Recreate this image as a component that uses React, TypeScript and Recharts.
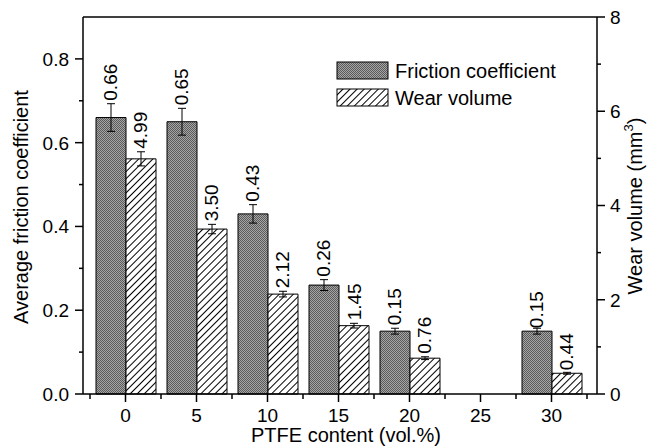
import React from "react"
import { BarChart, Bar, XAxis, YAxis, ErrorBar, LabelList, ReferenceLine } from "recharts"

const categories = ["0", "5", "10", "15", "20", "25", "30"]
const friction = [0.66, 0.65, 0.43, 0.26, 0.15, null, 0.15]
const frictionErr = [0.033, 0.032, 0.022, 0.013, 0.007, null, 0.007]
const wear = [4.99, 3.5, 2.12, 1.45, 0.76, null, 0.44]
const wearErr = [0.15, 0.1, 0.06, 0.05, 0.03, null, 0.02]
const leftTicks = [0, 0.1, 0.2, 0.3, 0.4, 0.5, 0.6, 0.7, 0.8]
const rightTicks = [0, 1, 2, 3, 4, 5, 6, 7, 8]

const data = categories.map((c, i) => ({
    x: c,
    friction: friction[i],
    frictionErr: frictionErr[i],
    wear: wear[i],
    wearErr: wearErr[i],
}))

const W = 655
const H = 448
const LEFT_W = 83
const RIGHT_W = 58
const X_H = 54
const TOP = 17
const PAD_L = 7
const PAD_R = 10
const PLOT_W = W - LEFT_W - RIGHT_W
const BAND = (PLOT_W - PAD_L - PAD_R) / categories.length
const FONT = 19

const LeftTick = (p: any) => {
    const { x, y, payload } = p
    const v = payload.value
    const major = Math.round(v * 10) % 2 === 0
    return (
        <g>
            <line x1={x} x2={x - (major ? 8 : 4)} y1={y} y2={y} stroke="#000" strokeWidth={1.5} />
            {major && (
                <text x={x - 14} y={y} dy="0.36em" textAnchor="end" fontSize={FONT} fill="#000">
                    {v.toFixed(1)}
                </text>
            )}
        </g>
    )
}

const RightTick = (p: any) => {
    const { x, y, payload } = p
    const v = payload.value
    const major = v % 2 === 0
    return (
        <g>
            <line x1={x} x2={x + (major ? 8 : 4)} y1={y} y2={y} stroke="#000" strokeWidth={1.5} />
            {major && (
                <text x={x + 13} y={y} dy="0.36em" textAnchor="start" fontSize={FONT} fill="#000">
                    {v}
                </text>
            )}
        </g>
    )
}

const BottomTick = (p: any) => {
    const { x, y, payload, index } = p
    const last = index === categories.length - 1
    return (
        <g>
            <line x1={x} x2={x} y1={y} y2={y + 8} stroke="#000" strokeWidth={1.5} />
            <line x1={x - BAND / 2} x2={x - BAND / 2} y1={y} y2={y + 5} stroke="#000" strokeWidth={1.5} />
            {last && <line x1={x + BAND / 2} x2={x + BAND / 2} y1={y} y2={y + 5} stroke="#000" strokeWidth={1.5} />}
            <text x={x} y={y + 28} textAnchor="middle" fontSize={FONT} fill="#000">
                {payload.value}
            </text>
        </g>
    )
}

const makeLabel = (errs: (number | null)[]) => (p: any) => {
    const vb = p.viewBox ?? p
    const x = vb.x ?? p.x
    const y = vb.y ?? p.y
    const width = vb.width ?? p.width
    const height = vb.height ?? p.height
    const value = p.value
    if (value == null || value === "") return null
    const v = Number(value)
    const e = errs[p.index] ?? 0
    const errPx = v > 0 ? (e / v) * Math.abs(height) : 0
    const tx = x + width / 2 + 6.5
    const ty = y - errPx - 3
    return (
        <text x={tx} y={ty} transform={`rotate(-90 ${tx} ${ty})`} fontSize={FONT} textAnchor="start" fill="#000">
            {v.toFixed(2)}
        </text>
    )
}

export default function App() {
    return (
        <div style={{ position: "absolute", left: 0, top: 0, width: W, height: H, background: "#fff", fontFamily: "'Liberation Sans', Arial, sans-serif" }}>
            <svg width={0} height={0} style={{ position: "absolute" }}>
                <defs>
                    <pattern id="fricPat" patternUnits="userSpaceOnUse" width={2} height={2}>
                        <rect x={0} y={0} width={2} height={2} fill="#a6a6a6" />
                        <rect x={0} y={0} width={1} height={1} fill="#5a5a5a" />
                        <rect x={1} y={1} width={1} height={1} fill="#5a5a5a" />
                    </pattern>
                    <pattern id="wearPat" patternUnits="userSpaceOnUse" width={5} height={5} patternTransform="rotate(45)">
                        <rect x={0} y={0} width={5} height={5} fill="#fff" />
                        <line x1={0.5} y1={0} x2={0.5} y2={5} stroke="#000" strokeWidth={1} />
                    </pattern>
                </defs>
            </svg>
            <BarChart
                width={W}
                height={H}
                data={data}
                margin={{ top: TOP, right: 0, bottom: 0, left: 0 }}
                barCategoryGap={6}
                barGap={0}
            >
                <XAxis
                    dataKey="x"
                    height={X_H}
                    padding={{ left: PAD_L, right: PAD_R }}
                    interval={0}
                    tickSize={0}
                    tickMargin={0}
                    tickLine={false}
                    axisLine={{ stroke: "#000", strokeWidth: 1.5 }}
                    tick={BottomTick}
                    label={{
                        value: "PTFE content (vol.%)",
                        content: () => (
                            <text x={LEFT_W + PLOT_W / 2 + 6} y={442} textAnchor="middle" fontSize={20} fill="#000">
                                PTFE content (vol.%)
                            </text>
                        ),
                    }}
                />
                <YAxis
                    yAxisId="l"
                    orientation="left"
                    width={LEFT_W}
                    domain={[0, 0.9]}
                    ticks={leftTicks}
                    interval={0}
                    tickSize={0}
                    tickMargin={0}
                    tickLine={false}
                    axisLine={{ stroke: "#000", strokeWidth: 1.5 }}
                    tick={LeftTick}
                    label={{
                        value: "Average friction coefficient",
                        content: () => (
                            <text x={28} y={207} transform="rotate(-90 28 207)" textAnchor="middle" fontSize={20} fill="#000">
                                Average friction coefficient
                            </text>
                        ),
                    }}
                />
                <YAxis
                    yAxisId="r"
                    orientation="right"
                    width={RIGHT_W}
                    domain={[0, 8]}
                    ticks={rightTicks}
                    interval={0}
                    tickSize={0}
                    tickMargin={0}
                    tickLine={false}
                    axisLine={{ stroke: "#000", strokeWidth: 1.5 }}
                    tick={RightTick}
                    label={{
                        value: "Wear volume (mm3)",
                        content: () => (
                            <text x={642} y={206} transform="rotate(-90 642 206)" textAnchor="middle" fontSize={20} fill="#000">
                                Wear volume (mm<tspan fontSize={13} dy={-9}>3</tspan><tspan dy={9}>)</tspan>
                            </text>
                        ),
                    }}
                />
                <ReferenceLine yAxisId="l" y={0.9} stroke="#000" strokeWidth={1.5} />
                <Bar yAxisId="l" dataKey="friction" fill="url(#fricPat)" stroke="#000" strokeWidth={1} isAnimationActive={false}>
                    <ErrorBar dataKey="frictionErr" width={4} stroke="#000" strokeWidth={1} direction="y" />
                    <LabelList dataKey="friction" content={makeLabel(frictionErr)} />
                </Bar>
                <Bar yAxisId="r" dataKey="wear" fill="url(#wearPat)" stroke="#000" strokeWidth={1} isAnimationActive={false}>
                    <ErrorBar dataKey="wearErr" width={4} stroke="#000" strokeWidth={1} direction="y" />
                    <LabelList dataKey="wear" content={makeLabel(wearErr)} />
                </Bar>
            </BarChart>
            <svg width={W} height={H} style={{ position: "absolute", left: 0, top: 0, pointerEvents: "none" }}>
                <rect x={337} y={62} width={51} height={17} fill="url(#fricPat)" stroke="#000" strokeWidth={1} />
                <text x={395} y={77.5} fontSize={20} fill="#000">Friction coefficient</text>
                <rect x={337} y={89} width={51} height={17} fill="url(#wearPat)" stroke="#000" strokeWidth={1} />
                <text x={395} y={104.5} fontSize={20} fill="#000">Wear volume</text>
            </svg>
        </div>
    )
}
